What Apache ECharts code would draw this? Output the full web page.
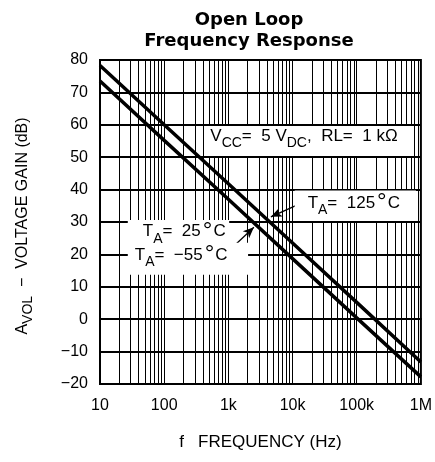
<!DOCTYPE html>
<html><head><meta charset="utf-8">
<script src="https://cdn.jsdelivr.net/npm/echarts@6/dist/echarts.min.js"></script>
<style>html,body{margin:0;padding:0;background:#fff}#c{width:435px;height:462px}</style>
</head><body><div id="c"></div>
<script>
// ---- data ----
const freqs = [10, 100, 1000, 10000, 100000, 1000000];
const gainUpper = [78.3, 60.0, 41.8, 23.5, 5.2, -13.2];   // T_A = 125°C
const gainLower = [73.5, 55.2, 37.0, 18.7, 0.4, -17.8];   // T_A = 25°C / -55°C
const xTickLabels = ['10', '100', '1k', '10k', '100k', '1M'];
const yMin = -20, yMax = 80, yStep = 10;
const xMin = 10, xMax = 1000000;

// minor grid frequencies (2..9 of each decade, plus inner decades)
const gridFreqs = [];
for (let d = 10; d < xMax; d *= 10) {
  for (let k = 2; k <= 9; k++) gridFreqs.push(k * d);
  if (d * 10 < xMax) gridFreqs.push(d * 10);
}

// annotations in data coordinates [freq, dB]
const boxes = [
  [[422, 59.6], [752000, 50.4]],
  [[10800, 39.7], [838000, 30.3]],
  [[27.1, 30.6], [1030, 23.3]],
  [[27.1, 23.6], [2030, 13.7]]
];
const labels = [
  {at: [523, 59.2], text: '{m|V}{s|CC}{m|=  5 V}{s|DC}{m|,  RL=  1 kΩ}'},
  {at: [17200, 38.5], text: '{m|T}{s|A}{m|=  125}{d|°}{m|C}'},
  {at: [46.4, 29.6], text: '{m|T}{s|A}{m|=  25}{d|°}{m|C}'},
  {at: [34.8, 22.4], text: '{m|T}{s|A}{m|=  −55}{d|°}{m|C}'}
];
const arrows = [
  [[12900, 35.6], [4600, 31.6]],
  [[1320, 23.2], [2500, 28.4]]
];

const FONT = 'Liberation Sans';
const rich = {
  m: {fontFamily: FONT, fontSize: 17, lineHeight: 19, verticalAlign: 'top', color: '#000'},
  s: {fontFamily: FONT, fontSize: 14, lineHeight: 15, verticalAlign: 'top', padding: [9, 0, 0, 0], color: '#000'},
  d: {fontFamily: FONT, fontSize: 24, lineHeight: 24, verticalAlign: 'bottom', padding: [0, 1, 4, 2], color: '#000'}
};
const richAxis = {
  m: {fontFamily: FONT, fontSize: 16, lineHeight: 18, verticalAlign: 'top', color: '#000'},
  s: {fontFamily: FONT, fontSize: 14, lineHeight: 15, verticalAlign: 'top', padding: [6, 0, 0, 0], color: '#000'}
};

const chart = echarts.init(document.getElementById('c'), null, {renderer: 'canvas'});
const fmtTick = v => {
  const i = Math.round(Math.log10(v)) - 1;
  return xTickLabels[i] !== undefined ? xTickLabels[i] : '';
};

chart.setOption({
  animation: false,
  backgroundColor: '#fff',
  title: {
    text: 'Open Loop\nFrequency Response',
    left: 249, top: 10, padding: 0, textAlign: 'center',
    textStyle: {fontFamily: 'DejaVu Sans', fontWeight: 'bold', fontSize: 18, lineHeight: 21, color: '#000'}
  },
  grid: {left: 100, right: 12, top: 60, bottom: 78, show: true, borderColor: '#000', borderWidth: 2, backgroundColor: 'transparent'},
  xAxis: {
    type: 'log', logBase: 10, min: xMin, max: xMax,
    axisLine: {show: true, lineStyle: {color: '#000', width: 2}},
    axisTick: {show: false},
    splitLine: {show: false},
    axisLabel: {color: '#000', fontFamily: FONT, fontSize: 16, margin: 14, formatter: fmtTick},
    name: 'f   FREQUENCY (Hz)', nameLocation: 'middle', nameGap: 50,
    nameTextStyle: {color: '#000', fontFamily: FONT, fontSize: 17}
  },
  yAxis: {
    type: 'value', min: yMin, max: yMax, interval: yStep,
    axisLine: {show: true, lineStyle: {color: '#000', width: 2}},
    axisTick: {show: false},
    splitLine: {show: true, lineStyle: {color: '#000', width: 2}},
    axisLabel: {color: '#000', fontFamily: FONT, fontSize: 16, margin: 12,
      formatter: v => (v < 0 ? '−' + Math.abs(v) : String(v))}
  },
  series: [
    {
      type: 'line', data: [], z: 1, silent: true,
      markLine: {
        silent: true, symbol: 'none', label: {show: false},
        lineStyle: {color: '#000', width: 1, type: 'solid'},
        emphasis: {disabled: true},
        data: gridFreqs.map(f => ({xAxis: f}))
      }
    },
    {
      name: 'upper', type: 'line', z: 5, symbol: 'none', silent: true,
      lineStyle: {color: '#000', width: 3.5},
      data: freqs.map((f, i) => [f, gainUpper[i]])
    },
    {
      name: 'lower', type: 'line', z: 5, symbol: 'none', silent: true,
      lineStyle: {color: '#000', width: 3.5},
      data: freqs.map((f, i) => [f, gainLower[i]])
    }
  ]
});

const px = p => chart.convertToPixel({gridIndex: 0}, p);
const graphics = [];
boxes.forEach(b => {
  const a = px(b[0]), c = px(b[1]);
  graphics.push({type: 'rect', z: 10, silent: true,
    shape: {x: Math.min(a[0], c[0]), y: Math.min(a[1], c[1]), width: Math.abs(c[0] - a[0]), height: Math.abs(c[1] - a[1])},
    style: {fill: '#fff'}});
});
labels.forEach(l => {
  const p = px(l.at);
  graphics.push({type: 'text', z: 12, silent: true, x: p[0], y: p[1],
    style: {text: l.text, rich: rich, align: 'left', verticalAlign: 'top'}});
});
graphics.push({type: 'text', z: 12, silent: true, x: 24, y: 226, rotation: Math.PI / 2,
  style: {text: '{m|A}{s|VOL}{m|  −  VOLTAGE GAIN (dB)}', rich: richAxis, align: 'center', verticalAlign: 'middle'}});
chart.setOption({
  graphic: graphics,
  series: [{}, {}, {}, {
    type: 'line', data: [], z: 20, silent: true,
    markLine: {
      silent: true, symbol: ['none', 'arrow'], symbolSize: [7, 11], label: {show: false},
      lineStyle: {color: '#000', width: 1.3, type: 'solid'},
      emphasis: {disabled: true},
      data: arrows.map(a => [{coord: a[0]}, {coord: a[1]}])
    }
  }]
});
</script></body></html>
